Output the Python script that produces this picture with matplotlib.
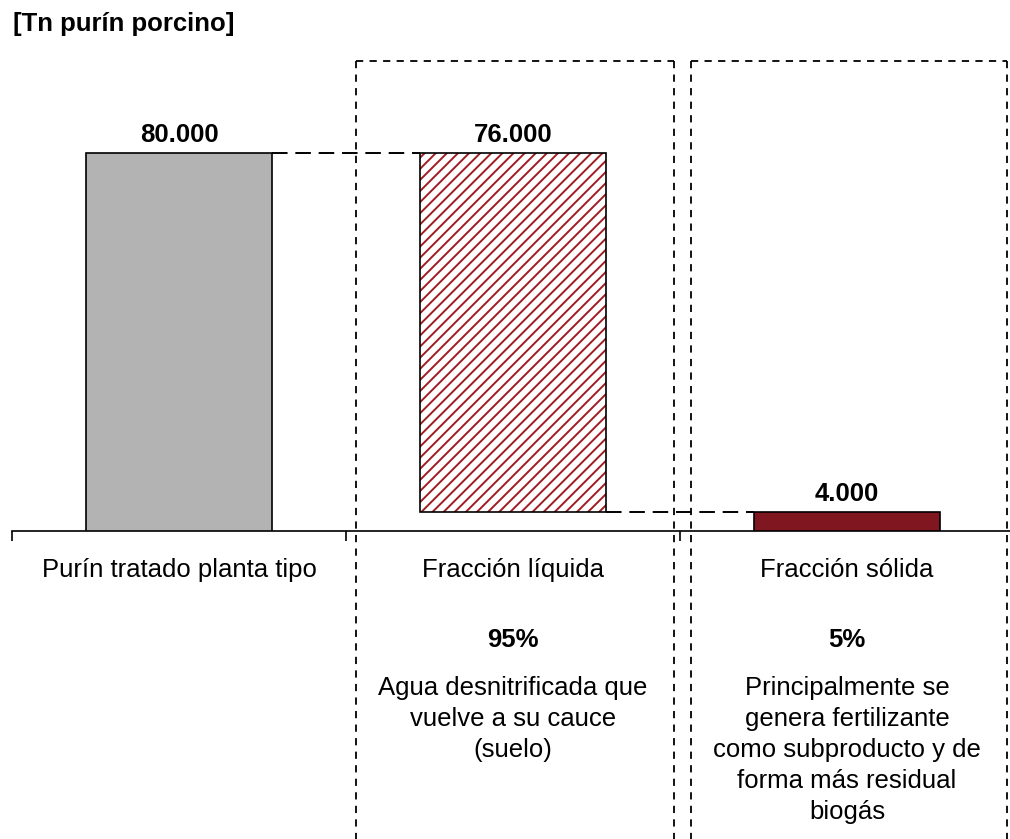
import matplotlib
matplotlib.use("Agg")
import matplotlib.pyplot as plt
from matplotlib.lines import Line2D

plt.rcParams['font.family'] = ['Liberation Sans', 'DejaVu Sans']
plt.rcParams['hatch.linewidth'] = 1.4

# Data
categories = ["Purín tratado planta tipo", "Fracción líquida", "Fracción sólida"]
values = [80000, 76000, 4000]
value_labels = ["80.000", "76.000", "4.000"]
percent_labels = ["", "95%", "5%"]
notes = [
    [],
    ["Agua desnitrificada que", "vuelve a su cauce", "(suelo)"],
    ["Principalmente se", "genera fertilizante", "como subproducto y de",
     "forma más residual", "biogás"],
]
unit_title = "[Tn purín porcino]"

W, H = 1010, 839
FS = 18.5
fig = plt.figure(figsize=(W / 100, H / 100), dpi=100)

def fx(px):
    return px / W

def fy(py):
    return 1 - py / H

# Axes: baseline at y=531 px, x from 12 px (category width 334 px)
axis_y = 531
cat_w = 334
x0 = 12
ax = fig.add_axes([fx(x0), fy(axis_y), fx(W - x0), axis_y / H])
ax.set_xlim(-0.5, -0.5 + (W - x0) / cat_w)
ax.set_ylim(0, values[0] * axis_y / (axis_y - 153))

# Waterfall bottoms: total, remaining after solid part, bottom
bottoms = [0, values[2], 0]
bw = 0.557
grey, red = "#B3B3B3", "#7F1620"
ax.bar(0, values[0], bottom=bottoms[0], width=bw, color=grey,
       edgecolor="black", linewidth=1.2, zorder=3)
ax.bar(1, values[1], bottom=bottoms[1], width=bw, color="white",
       edgecolor="#A01C22", hatch="///", linewidth=0, zorder=3)
ax.bar(1, values[1], bottom=bottoms[1], width=bw, fill=False,
       edgecolor="black", linewidth=1.2, zorder=4)
ax.bar(2, values[2], bottom=bottoms[2], width=bw, color=red,
       edgecolor="black", linewidth=1.2, zorder=3)

# Connector lines between bars
ax.plot([0 + bw / 2, 1 - bw / 2], [values[0], values[0]], color="black",
        lw=1.4, dashes=(8, 4), zorder=2)
ax.plot([1 + bw / 2, 2 - bw / 2], [bottoms[1], bottoms[1]], color="black",
        lw=1.4, dashes=(8, 4), zorder=2)

# Value labels
tops = [bottoms[i] + values[i] for i in range(3)]
for i, lab in enumerate(value_labels):
    ax.annotate(lab, (i, tops[i]), xytext=(0, 8), textcoords="offset points",
                ha="center", va="baseline", fontsize=FS, fontweight="bold")

# Axis styling
for s in ["top", "right", "left"]:
    ax.spines[s].set_visible(False)
ax.spines["bottom"].set_linewidth(1.2)
ax.set_yticks([])
ax.set_xticks([-0.5, 0.5, 1.5])
ax.set_xticklabels([])
ax.tick_params(axis="x", direction="out", length=7, width=1.2)
ax.patch.set_visible(False)

# Category labels and notes below the axis
cx = [x0 + cat_w * (i + 0.5) for i in range(3)]
for i, c in enumerate(categories):
    fig.text(fx(cx[i]), fy(577), c, ha="center", va="baseline", fontsize=FS)
    if percent_labels[i]:
        fig.text(fx(cx[i]), fy(647), percent_labels[i], ha="center",
                 va="baseline", fontsize=FS, fontweight="bold")
    for j, line in enumerate(notes[i]):
        fig.text(fx(cx[i]), fy(695 + 31 * j), line, ha="center",
                 va="baseline", fontsize=FS)

fig.text(fx(13), fy(31), unit_title, ha="left", va="baseline", fontsize=FS,
         fontweight="bold")

# Dashed frames around the two fractions
def frame(xl, xr, yt):
    kw = dict(color="black", lw=1.3, dashes=(4, 3.5))
    fig.add_artist(Line2D([fx(xl), fx(xr)], [fy(yt), fy(yt)], **kw))
    fig.add_artist(Line2D([fx(xl), fx(xl)], [fy(yt), fy(H + 5)], **kw))
    fig.add_artist(Line2D([fx(xr), fx(xr)], [fy(yt), fy(H + 5)], **kw))

frame(356, 674, 61)
frame(691, 1007, 61)

fig.savefig("out.png", dpi=100)
